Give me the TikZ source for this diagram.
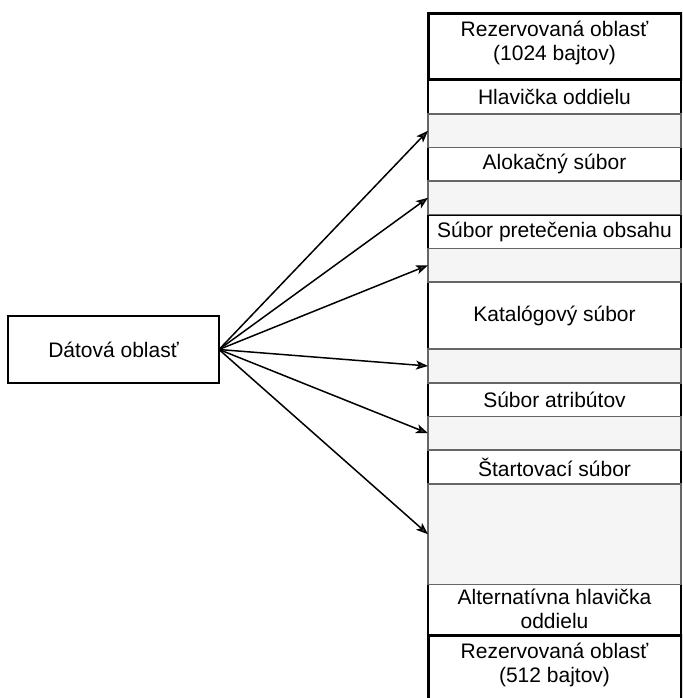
\documentclass[tikz,border=0pt]{standalone}
\usepackage{fontspec}
\setmainfont{Liberation Sans}
\usetikzlibrary{arrows.meta}
\definecolor{rowgray}{HTML}{F5F5F5}
\definecolor{rowline}{HTML}{666666}
\begin{document}
\begin{tikzpicture}[x=1pt,y=-1pt,
  every node/.style={font=\fontsize{21}{24}\selectfont, align=center, inner sep=0pt, outer sep=0pt},
  plainrow/.style={draw=black, line width=1.5pt, fill=white},
  gaprow/.style={draw=rowline, line width=1.5pt, fill=rowgray},
  reserved/.style={draw=black, line width=3pt, fill=white},
  link/.style={line width=1.5pt, -{Stealth[length=12pt,width=9pt,inset=3pt,fill=darkgray]}}]
\useasboundingbox (0,0) rectangle (682,698);
\clip (0,0) rectangle (682,698);
\fill[white] (0,0) rectangle (682,698);

% column of partition regions: x from 428 to 681
\def\L{428}\def\R{681}
% white rows
\draw[plainrow] (\L,80) rectangle (\R,114) node[midway] (hdr) {Hlavička oddielu};
\draw[plainrow] (\L,147.5) rectangle (\R,181) node[midway] (alloc) {Alokačný súbor};
\draw[plainrow] (\L,215) rectangle (\R,248.5) node[midway] (ovfl) {Súbor pretečenia obsahu};
\draw[plainrow] (\L,282) rectangle (\R,349) node[midway] (cat) {Katalógový súbor};
\draw[plainrow] (\L,383) rectangle (\R,416.5) node[midway] (attr) {Súbor atribútov};
\draw[plainrow] (\L,450) rectangle (\R,484) node[midway] (start) {Štartovací súbor};
\draw[plainrow] (\L,584.5) rectangle (\R,635) node[midway, yshift=0.5pt] (alt) {Alternatívna hlavička\\oddielu};

% free gaps (gray)
\node[gaprow, minimum width=253pt, minimum height=33.5pt, anchor=north west] (g1) at (\L,114) {};
\node[gaprow, minimum width=253pt, minimum height=33.5pt, anchor=north west] (g2) at (\L,181) {};
\node[gaprow, minimum width=253pt, minimum height=33.5pt, anchor=north west] (g3) at (\L,248.5) {};
\node[gaprow, minimum width=253pt, minimum height=34pt, anchor=north west] (g4) at (\L,349) {};
\node[gaprow, minimum width=253pt, minimum height=33.5pt, anchor=north west] (g5) at (\L,416.5) {};
\node[gaprow, minimum width=253pt, minimum height=100.5pt, anchor=north west] (g6) at (\L,484) {};

% reserved areas
\draw[reserved] (\L,13.5) rectangle (\R,80) node[midway, yshift=3.5pt] (restop) {Rezervovaná oblasť\\(1024 bajtov)};
\draw[reserved] (\L,635) rectangle (\R,702) node[midway, yshift=3.5pt] (resbot) {Rezervovaná oblasť\\(512 bajtov)};

% data area
\node[draw=black, line width=1.5pt, minimum width=211pt, minimum height=67pt, anchor=north west] (data) at (8,316) {};
\node at (data.center) {Dátová oblasť};

% links into the free gaps
\foreach \g in {g1,g2,g3,g4,g5,g6}
  \draw[link] (data.east) -- (\g.west);
\end{tikzpicture}
\end{document}
